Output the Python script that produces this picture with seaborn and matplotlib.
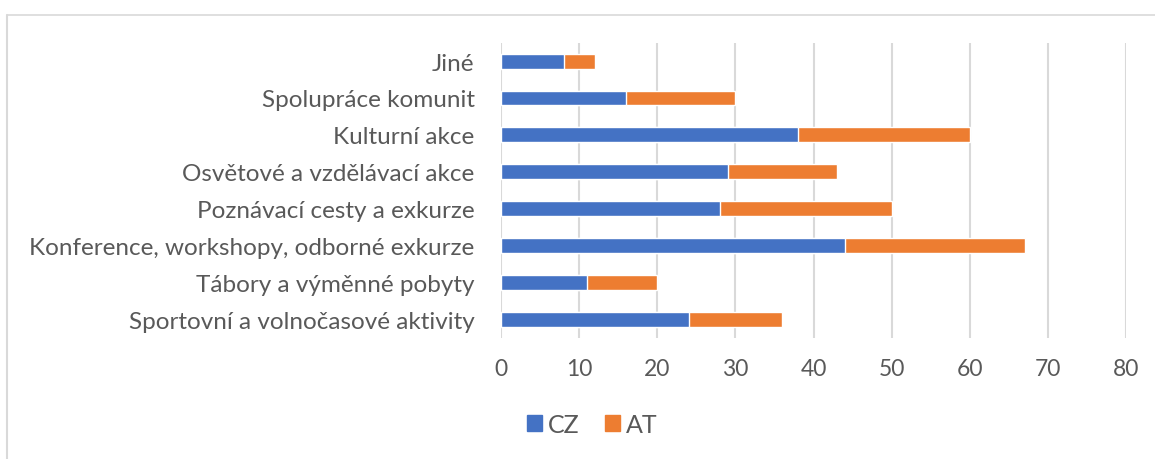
import matplotlib
matplotlib.use("Agg")
import matplotlib.pyplot as plt
import pandas as pd
import seaborn as sns
from matplotlib.lines import Line2D
from matplotlib.patches import Patch

# data
categories = [
    "Jiné",
    "Spolupráce komunit",
    "Kulturní akce",
    "Osvětové a vzdělávací akce",
    "Poznávací cesty a exkurze",
    "Konference, workshopy, odborné exkurze",
    "Tábory a výměnné pobyty",
    "Sportovní a volnočasové aktivity",
]
cz_values = [8, 16, 38, 29, 28, 44, 11, 24]
at_values = [4, 14, 22, 14, 22, 23, 9, 12]
x_ticks = [0, 10, 20, 30, 40, 50, 60, 70, 80]

CZ_COLOR = "#4472C4"
AT_COLOR = "#ED7D31"
TEXT_COLOR = "#595959"
GRID_COLOR = "#D9D9D9"


def main():
    df = pd.DataFrame({"kategorie": categories, "CZ": cz_values, "AT": at_values})
    df["celkem"] = df["CZ"] + df["AT"]

    sns.set_style("white")
    plt.rcParams["font.family"] = ["Lato", "DejaVu Sans"]

    fig = plt.figure(figsize=(11.55, 4.6), dpi=100)
    ax = fig.add_axes([0.4338, 0.264, 0.5412, 0.641])

    # stacked bars: total in orange, CZ on top in blue
    sns.barplot(data=df, y="kategorie", x="celkem", color=AT_COLOR, orient="h",
                width=0.4, saturation=1, ax=ax)
    sns.barplot(data=df, y="kategorie", x="CZ", color=CZ_COLOR, orient="h",
                width=0.4, saturation=1, ax=ax)

    ax.set_xlim(0, 80)
    ax.set_ylim(7.5, -0.5)
    ax.set_xticks(x_ticks)
    ax.set_xlabel("")
    ax.set_ylabel("")
    ax.xaxis.grid(True, color=GRID_COLOR, linewidth=1.5)
    ax.set_axisbelow(True)
    for s in ax.spines.values():
        s.set_visible(False)
    ax.tick_params(axis="y", length=0, pad=19, labelsize=17.5, labelcolor=TEXT_COLOR)
    ax.tick_params(axis="x", length=0, pad=15, labelsize=16.5, labelcolor=TEXT_COLOR)

    handles = [Patch(color=CZ_COLOR, label="CZ"), Patch(color=AT_COLOR, label="AT")]
    fig.legend(handles=handles, loc="center", bbox_to_anchor=(0.513, 0.076), ncol=2,
               frameon=False, fontsize=18, labelcolor=TEXT_COLOR,
               handlelength=0.6, handleheight=0.6, handletextpad=0.25, columnspacing=1.0)

    # chart area border
    fig.add_artist(Line2D([7 / 1155, 1.0], [1 - 15.5 / 460] * 2, color=GRID_COLOR,
                          linewidth=1.2, transform=fig.transFigure))
    fig.add_artist(Line2D([7 / 1155] * 2, [0.0, 1 - 15.5 / 460], color=GRID_COLOR,
                          linewidth=1.5, transform=fig.transFigure))

    fig.savefig("out.png", dpi=100, facecolor="white")


if __name__ == "__main__":
    main()
